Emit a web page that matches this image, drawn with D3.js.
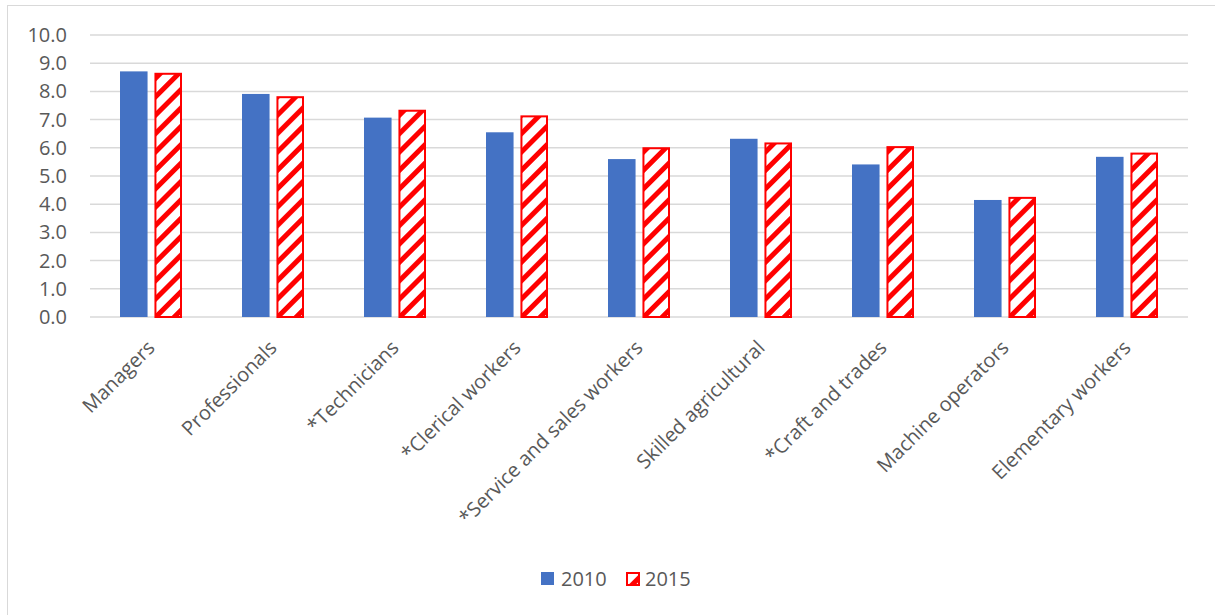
<!DOCTYPE html>
<html>
<head>
<meta charset="utf-8">
<script src="https://cdn.jsdelivr.net/npm/d3@7"></script>
<style>
  body { margin: 0; background: #fff; }
  text { font-family: "Open Sans", sans-serif; fill: #595959; }
</style>
</head>
<body>
<svg id="chart" width="1215" height="615"></svg>
<script>
var categories = ["Managers", "Professionals", "*Technicians", "*Clerical workers",
  "*Service and sales workers", "Skilled agricultural", "*Craft and trades",
  "Machine operators", "Elementary workers"];
var series = ["2010", "2015"];
var values2010 = [8.71, 7.91, 7.07, 6.55, 5.60, 6.32, 5.41, 4.15, 5.68];
var values2015 = [8.66, 7.83, 7.35, 7.15, 6.02, 6.19, 6.06, 4.26, 5.83];
var yTicks = [0, 1, 2, 3, 4, 5, 6, 7, 8, 9, 10];

var svg = d3.select("#chart");
var plotLeft = 90, plotRight = 1188, plotTop = 35, plotBottom = 317;

// pattern for 2015 bars
var defs = svg.append("defs");
var pat = defs.append("pattern")
  .attr("id", "stripes")
  .attr("patternUnits", "userSpaceOnUse")
  .attr("width", 13)
  .attr("height", 13)
  .attr("patternTransform", "rotate(45)");
pat.append("rect").attr("width", 13).attr("height", 13).attr("fill", "#fff");
pat.append("rect").attr("width", 5).attr("height", 13).attr("fill", "#ff0000");

// outer chart border
svg.append("rect")
  .attr("x", 7.5).attr("y", 5.5)
  .attr("width", 1220).attr("height", 620)
  .attr("fill", "none")
  .attr("stroke", "#d9d9d9")
  .attr("stroke-width", 1);

var x0 = d3.scaleBand().domain(categories).range([plotLeft, plotRight]);
var x1 = d3.scaleBand().domain(series).range([0, 62]).paddingInner(0.2);
var y = d3.scaleLinear().domain([0, 10]).range([plotBottom, plotTop]);

// gridlines
svg.append("g")
  .selectAll("line")
  .data(yTicks)
  .enter()
  .append("line")
  .attr("x1", plotLeft).attr("x2", plotRight)
  .attr("y1", function(d){ return y(d); })
  .attr("y2", function(d){ return y(d); })
  .attr("stroke", "#d9d9d9")
  .attr("stroke-width", 1.5);

// y tick labels
svg.append("g")
  .selectAll("text")
  .data(yTicks)
  .enter()
  .append("text")
  .attr("x", 67)
  .attr("y", function(d){ return y(d); })
  .attr("dy", "0.35em")
  .attr("text-anchor", "end")
  .style("font-size", "20px")
  .text(function(d){ return d.toFixed(1); });

var offset = (x0.bandwidth() - 62) / 2;

var data = categories.map(function(c, i){
  return { cat: c, v2010: values2010[i], v2015: values2015[i] };
});

var groups = svg.append("g")
  .selectAll("g")
  .data(data)
  .enter()
  .append("g")
  .attr("transform", function(d){ return "translate(" + (x0(d.cat) + offset) + ",0)"; });

groups.append("rect")
  .attr("x", x1("2010"))
  .attr("y", function(d){ return y(d.v2010); })
  .attr("width", x1.bandwidth())
  .attr("height", function(d){ return plotBottom - y(d.v2010); })
  .attr("fill", "#4472c4");

groups.append("rect")
  .attr("x", x1("2015") + 1)
  .attr("y", function(d){ return y(d.v2015) + 1; })
  .attr("width", x1.bandwidth() - 2)
  .attr("height", function(d){ return plotBottom - y(d.v2015) - 1; })
  .attr("fill", "url(#stripes)")
  .attr("stroke", "#ff0000")
  .attr("stroke-width", 2);

// category labels
svg.append("g")
  .selectAll("text")
  .data(categories)
  .enter()
  .append("text")
  .attr("transform", function(d){
    return "translate(" + (x0(d) + x0.bandwidth() / 2 + 5) + ",349) rotate(-45)";
  })
  .attr("text-anchor", "end")
  .style("font-size", "20px")
  .text(function(d){ return d; });

// legend
var legend = svg.append("g");
legend.append("rect")
  .attr("x", 541).attr("y", 572).attr("width", 13).attr("height", 13)
  .attr("fill", "#4472c4");
legend.append("text")
  .attr("x", 561).attr("y", 586)
  .style("font-size", "20px")
  .text(series[0]);
legend.append("rect")
  .attr("x", 627).attr("y", 573).attr("width", 12).attr("height", 12)
  .attr("fill", "url(#stripes)")
  .attr("stroke", "#ff0000")
  .attr("stroke-width", 2);
legend.append("text")
  .attr("x", 645).attr("y", 586)
  .style("font-size", "20px")
  .text(series[1]);
</script>
</body>
</html>
